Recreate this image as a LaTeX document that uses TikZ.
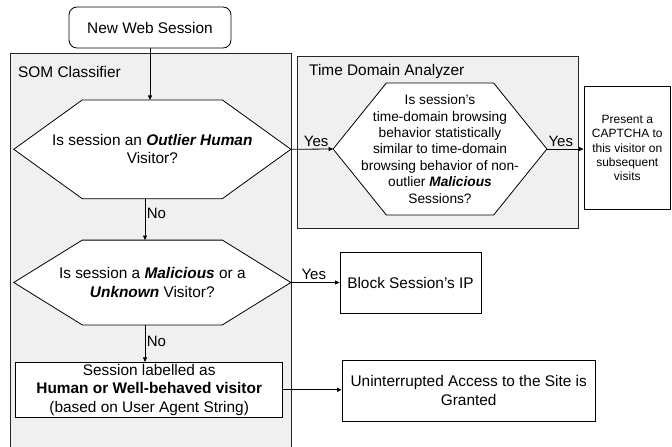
\documentclass[tikz,border=0pt]{standalone}
\usepackage{fontspec}
\setmainfont{Liberation Sans}
\usetikzlibrary{arrows.meta}
\pgfdeclarelayer{bg}
\pgfdeclarelayer{mid}
\pgfsetlayers{bg,mid,main}
\tikzset{
  arr/.style={line width=0.8pt, -{Triangle[length=4.5pt,width=4pt]}},
  groupbox/.style={draw=black!85, line width=0.8pt, fill=black!6},
  hexshape/.style={draw=black, line width=0.8pt, fill=white},
  plainbox/.style={draw=black, line width=0.8pt, fill=white, align=center, inner sep=0pt},
  hextext/.style={align=center, inner sep=0pt},
  mainfont/.style={font=\fontsize{15.4}{18.3}\selectfont},
  smallfont/.style={font=\fontsize{13.7}{16.4}\selectfont},
  tinyfont/.style={font=\fontsize{12}{14.2}\selectfont},
  lbl/.style={font=\fontsize{15}{18}\selectfont, inner sep=2pt},
  titletext/.style={font=\fontsize{15.4}{18.3}\selectfont, inner sep=0pt, anchor=west}
}
\begin{document}
\begin{tikzpicture}[x=1pt,y=-1pt]
\useasboundingbox (0,0) rectangle (672,447);

% group boxes
\begin{pgfonlayer}{bg}
\path[groupbox] (10,53.3) rectangle (291,470);
\path[groupbox] (297.3,56) rectangle (578.3,228.3);
\end{pgfonlayer}
\node[titletext] (somtitle) at (18,71.5) {SOM Classifier};
\node[titletext] (tdatitle) at (309,72) {Time Domain Analyzer};

% start
\node[plainbox, mainfont, rounded corners=8pt, minimum width=162pt, minimum height=41pt] (start) at (150,27.5) {New Web Session};

% hexagon 1
\node[hextext, mainfont, minimum width=276.7pt, minimum height=98.3pt] (h1) at (152.3,149.3)
  {Is session an \textbf{\textit{Outlier Human}}\\Visitor?};
% hexagon 2
\node[hextext, smallfont, minimum width=213.4pt, minimum height=131.7pt] (h2) at (440,149)
  {Is session’s\\time-domain browsing\\behavior statistically\\similar to time-domain\\browsing behavior of non-\\outlier \textbf{\textit{Malicious}}\\Sessions?};
% hexagon 3
\node[hextext, mainfont, minimum width=276.7pt, minimum height=84.4pt] (h3) at (152.3,282.5)
  {Is session a \textbf{\textit{Malicious}} or a\\\textbf{\textit{Unknown}} Visitor?};

\begin{pgfonlayer}{mid}
\path[hexshape] (h1.west) -- ([xshift=68.5pt]h1.north west) -- ([xshift=-68.5pt]h1.north east)
  -- (h1.east) -- ([xshift=-68.5pt]h1.south east) -- ([xshift=68.5pt]h1.south west) -- cycle;
\path[hexshape] (h2.west) -- ([xshift=53.3pt]h2.north west) -- ([xshift=-53.3pt]h2.north east)
  -- (h2.east) -- ([xshift=-53.3pt]h2.south east) -- ([xshift=53.3pt]h2.south west) -- cycle;
\path[hexshape] (h3.west) -- ([xshift=68.5pt]h3.north west) -- ([xshift=-68.5pt]h3.north east)
  -- (h3.east) -- ([xshift=-68.5pt]h3.south east) -- ([xshift=68.5pt]h3.south west) -- cycle;
\end{pgfonlayer}

% boxes
\node[plainbox, tinyfont, minimum width=86.7pt, minimum height=122.7pt] (cap) at (627.3,148)
  {Present a\\CAPTCHA to\\this visitor on\\subsequent\\visits};
\node[plainbox, mainfont, minimum width=141pt, minimum height=61pt] (block) at (410.5,282.8)
  {Block Session’s IP};
\node[plainbox, mainfont, minimum width=267pt, minimum height=55pt] (lab) at (149.2,389.8)
  {Session labelled as\\\textbf{Human or Well-behaved visitor}\\(based on User Agent String)};
\node[plainbox, mainfont, minimum width=253.3pt, minimum height=61pt] (access) at (468.7,390.5)
  {Uninterrupted Access to the Site is\\Granted};

% connectors
\draw[arr] (start.south) -- (start.south |- h1.north);
\draw[arr] (h1.east) -- node[lbl, above, pos=0.6] {Yes} (h2.west);
\draw[arr] (h2.east) -- node[lbl, above, pos=0.38] {Yes} (h2.east -| cap.west);
\draw[arr] ([xshift=-7.3pt]h1.south) -- node[lbl, right, pos=0.35, inner sep=1.5pt] {No} ([xshift=-7.3pt]h1.south |- h3.north);
\draw[arr] ([xshift=-7.3pt]h3.south) -- node[lbl, right, pos=0.45, inner sep=1.5pt] {No} ([xshift=-7.3pt]h3.south |- lab.north);
\draw[arr] (h3.east) -- node[lbl, above, pos=0.47] {Yes} (h3.east -| block.west);
\draw[arr] (lab.east) -- (lab.east -| access.west);
\end{tikzpicture}
\end{document}
